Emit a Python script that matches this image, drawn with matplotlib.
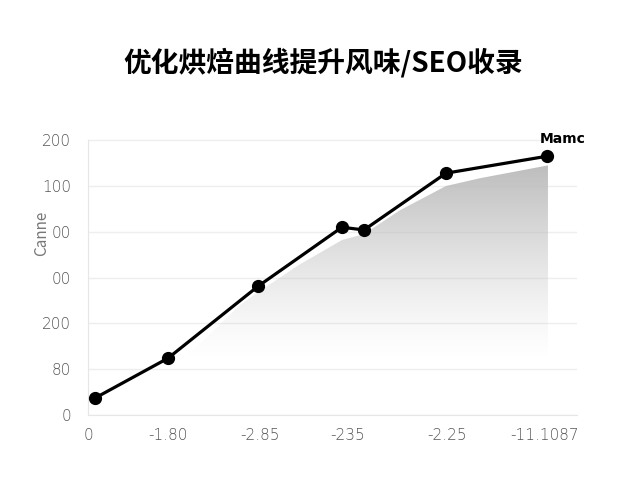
import numpy as np
import matplotlib.pyplot as plt
from matplotlib.patches import Polygon

plt.rcParams['font.family'] = ['Noto Sans CJK SC', 'DejaVu Sans']

# 数据
x_vals = [0.07, 0.80, 1.70, 2.54, 2.76, 3.58, 4.59]
y_vals = [0.37, 1.24, 2.81, 4.10, 4.04, 5.28, 5.65]

# 阴影区域上沿
fill_x = [0.95, 1.52, 1.70, 2.12, 2.54, 2.76, 3.12, 3.58, 3.92, 4.60]
fill_y = [1.20, 2.40, 2.68, 3.29, 3.82, 3.95, 4.47, 5.00, 5.17, 5.45]

xtick_pos = [0, 0.80, 1.72, 2.60, 3.59, 4.57]
xtick_labels = ['0', '-1.80', '-2.85', '-235', '-2.25', '-11.1087']
ytick_pos = [0, 1, 2, 3, 4, 5, 6]
ytick_labels = ['0', '80', '200', '00', '00', '100', '200']

title = '优化烘焙曲线提升风味/SEO收录'
series_label = 'Mamc'
y_label = 'Canne'

fig = plt.figure(figsize=(6.4, 4.8), dpi=100)
ax = fig.add_axes([0.1375, 0.1354, 0.764, 0.583])
xmax, ymax = 4.89, 6.11
ax.set_xlim(0, xmax)
ax.set_ylim(0, ymax)

# 渐变填充 (灰色, 透明度随高度变化)
n = 256
a = np.clip((np.linspace(0, ymax, n) - 1.2) / (5.5 - 1.2), 0, 1) ** 1.3
rgba = np.zeros((n, 1, 4))
rgba[..., :3] = 0.74
rgba[:, 0, 3] = a
img = ax.imshow(rgba, extent=[0, xmax, 0, ymax], origin='lower', aspect='auto', zorder=1)
poly = Polygon(list(zip(fill_x, fill_y)) + [(fill_x[-1], 0), (fill_x[0], 0)],
               closed=True, transform=ax.transData, facecolor='none', edgecolor='none')
ax.add_patch(poly)
img.set_clip_path(poly)

ax.plot(x_vals, y_vals, color='black', lw=2.3, marker='o', markersize=8.5, zorder=3)
ax.text(x_vals[-1] + 0.16, y_vals[-1] + 0.38, series_label, fontsize=10,
        fontweight='bold', ha='center', va='center', family=['DejaVu Sans'])

ax.set_xticks(xtick_pos)
ax.set_xticklabels(xtick_labels)
ax.set_yticks(ytick_pos)
ax.set_yticklabels(ytick_labels)
ax.tick_params(length=0, colors='#555555', labelsize=11, pad=12)
ax.tick_params(axis='x', pad=9)
for lab in ax.get_xticklabels() + ax.get_yticklabels():
    lab.set_family(['DejaVu Sans'])
    lab.set_fontweight('light')

ax.grid(True, axis='y', color='#eeeeee', lw=1)
ax.set_axisbelow(True)
for s in ['top', 'right']:
    ax.spines[s].set_visible(False)
for s in ['left', 'bottom']:
    ax.spines[s].set_color('#e6e6e6')
ax.spines['left'].set_bounds(0, 6)

ax.set_ylabel(y_label, color='#777777', fontsize=11, style='italic')
ax.yaxis.set_label_coords(-0.078, 0.65)

fig.text(0.505, 0.87, title, fontsize=20, fontweight='bold', ha='center', va='center')

fig.savefig('out.png', dpi=100, facecolor='white')
